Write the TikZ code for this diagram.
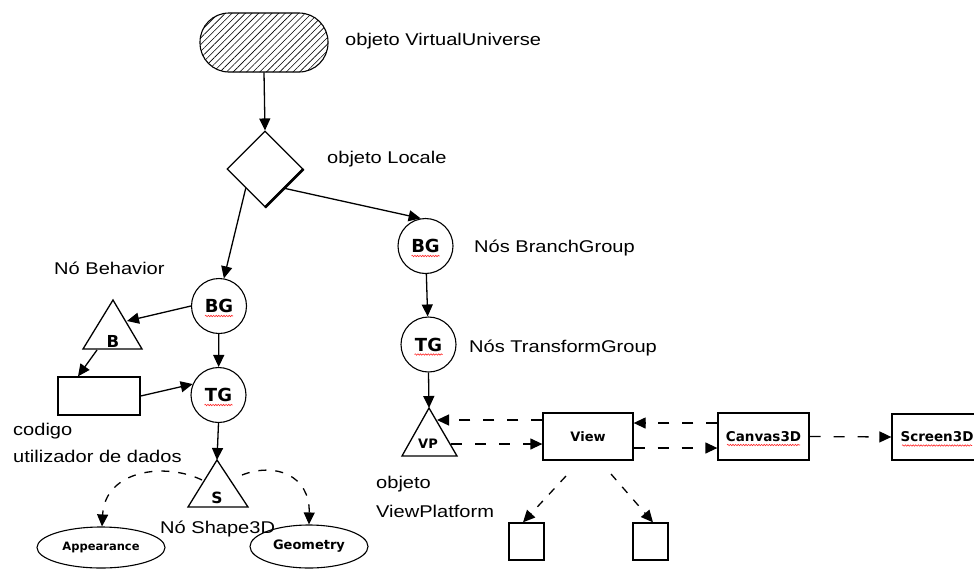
\documentclass[tikz,border=0pt]{standalone}
\usepackage{fontspec}
\setmainfont{Liberation Sans}[FakeStretch=1.18]
\newfontfamily\lblfont{DejaVu Sans}
\usetikzlibrary{arrows.meta,shapes.geometric,patterns.meta,decorations.pathmorphing}
\tikzset{
  ln/.style={line width=1.3pt},
  arr/.style={line width=1.3pt,-{Triangle[length=12pt,width=11pt]}},
  darr/.style={arr,dash pattern=on 11pt off 13pt},
  carr/.style={arr,dash pattern=on 8pt off 9pt},
  circ/.style={circle,draw,line width=1.1pt,minimum size=55pt,inner sep=0pt,
    font=\lblfont\bfseries\fontsize{18}{18}\selectfont},
  box/.style={rectangle,draw,line width=1.3pt,inner sep=0pt},
  blbl/.style={font=\lblfont\bfseries\fontsize{13.5}{13.5}\selectfont},
  txt/.style={font=\fontsize{17}{20}\selectfont,inner sep=0pt,anchor=base west},
  squig/.style={red!85,line width=0.6pt,decorate,
    decoration={snake,amplitude=0.7pt,segment length=2.6pt}},
}
\begin{document}
\begin{tikzpicture}[x=1pt,y=-1pt]
\useasboundingbox (0,0) rectangle (974,571);
\clip (0,0) rectangle (974,571);
\fill[white] (0,0) rectangle (974,571);

% VirtualUniverse
\node[draw,line width=1.1pt,rounded corners=29pt,minimum width=128pt,minimum height=59pt,
  inner sep=0pt,pattern={Lines[angle=45,distance=4.7pt,line width=0.6pt]}] (vu) at (264,42.5) {};
\node[txt] (lvu) at (345,45) {objeto VirtualUniverse};

% Locale
\node[diamond,draw,line width=1.1pt,minimum width=76pt,minimum height=76pt,aspect=1,inner sep=0pt] (loc) at (265,169) {};
\draw[line width=2.6pt] (loc.east) -- (loc.south);
\node[txt] (lloc) at (327,163) {objeto Locale};

% group nodes
\node[circ] (bg1) at (219,306) {BG};
\node[circ] (tg1) at (218.5,395) {TG};
\node[circ] (bg2) at (425.5,246) {BG};
\node[circ] (tg2) at (428.5,344.5) {TG};
\foreach \n in {bg1,tg1,bg2,tg2}
  \draw[squig] ([xshift=-14pt,yshift=-10pt]\n.center) -- ([xshift=14pt,yshift=-10pt]\n.center);
\node[txt] (lbg) at (474,252) {Nós BranchGroup};
\node[txt] (ltg) at (469,352) {Nós TransformGroup};

% Behavior triangle
\draw[ln] (113,300) coordinate (Btop) -- (142,349) -- (83,349) -- cycle;
\coordinate (Bin) at (127,321);
\coordinate (Bout) at (97,350);
\node[font=\lblfont\bfseries\fontsize{16.5}{16.5}\selectfont,inner sep=0pt,anchor=base] (bt) at (113,347) {B};
\node[txt] (lbeh) at (54,274) {Nó Behavior};

% user code box
\node[box,minimum width=82pt,minimum height=38pt] (code) at (99,396) {};
\node[txt] (lcod1) at (13,435) {codigo};
\node[txt] (lcod2) at (13,462) {utilizador de dados};

% Shape3D triangle
\draw[ln] (217,460) coordinate (Stop) -- (248,507) -- (188,507) -- cycle;
\coordinate (Sl) at (202,480);
\coordinate (Sr) at (242,475);
\node[font=\lblfont\bfseries\fontsize{15.5}{15.5}\selectfont,inner sep=0pt,anchor=base] (st) at (217,503) {S};
\node[txt] (lsh) at (160,533) {Nó Shape3D};

% Appearance / Geometry
\node[ellipse,draw,line width=1.1pt,minimum width=128pt,minimum height=41pt,inner sep=0pt,
  font=\lblfont\bfseries\fontsize{11.5}{11.5}\selectfont] (app) at (101,547.5) {Appearance};
\node[ellipse,draw,line width=1.1pt,minimum width=118pt,minimum height=43pt,inner sep=0pt,
  font=\lblfont\bfseries\fontsize{13}{13}\selectfont] (geo) at (309,546.5) {Geometry};

% ViewPlatform triangle
\draw[ln] (429,408) coordinate (VPtop) -- (457,456) -- (402,456) -- cycle;
\coordinate (VPr1) at (437,420);
\coordinate (VPr2) at (451,444);
\node[font=\lblfont\bfseries\fontsize{13}{13}\selectfont,inner sep=0pt,anchor=base] (vpt) at (428,448) {VP};
\node[txt] (lvp1) at (376,488) {objeto};
\node[txt] (lvp2) at (376,517) {ViewPlatform};

% View, Canvas3D, Screen3D
\node[box,minimum width=90pt,minimum height=47pt,font=\lblfont\bfseries\fontsize{13}{13}\selectfont] (view) at (588,436.5) {View};
\node[box,blbl,minimum width=91pt,minimum height=47pt] (canvas) at (763.5,436.5) {Canvas3D};
\node[box,blbl,minimum width=90pt,minimum height=46pt] (screen) at (937,437) {Screen3D};
\draw[squig] (727,445) -- (800,445);
\draw[squig] (902,445.5) -- (972,445.5);

% small boxes
\node[box,minimum width=35pt,minimum height=37pt] (box1) at (526.5,541.5) {};
\node[box,minimum width=35pt,minimum height=37pt] (box2) at (650.5,541.5) {};
\coordinate (vb1) at (566,476);
\coordinate (vb2) at (611,474);

% solid connectors
\draw[arr] (vu.south) -- (loc.north);
\draw[arr] (loc.south west) -- (bg1.80);
\draw[arr] (loc.south east) -- (bg2.100);
\draw[arr] (bg1.west) -- (Bin);
\draw[arr] (Bout) -- ([xshift=-21pt]code.north);
\draw[arr] (code.east) -- (tg1.157);
\draw[arr] (bg1) -- (tg1);
\draw[arr] (tg1.south) -- (Stop);
\draw[arr] (bg2) -- (tg2);
\draw[arr] (tg2.south) -- (VPtop);

% dashed connectors
\draw[carr] (Sl) .. controls (165,462) and (105,470) .. ([xshift=1pt]app.north);
\draw[carr] (Sr) .. controls (275,462) and (310,475) .. (geo.north);
\draw[darr] ([yshift=16.5pt]view.west) -- (VPr1);
\draw[darr] (VPr2) -- ([yshift=-7.5pt]view.west);
\draw[darr] ([yshift=13.5pt]canvas.west) -- ([yshift=13.5pt]view.east);
\draw[darr] ([yshift=-11.5pt]view.east) -- ([yshift=-11.5pt]canvas.west);
\draw[darr] (canvas.east) -- (screen.west);
\draw[carr] (vb1) -- ([xshift=-3.5pt]box1.north);
\draw[carr] (vb2) -- ([xshift=2.5pt]box2.north);
\end{tikzpicture}
\end{document}
